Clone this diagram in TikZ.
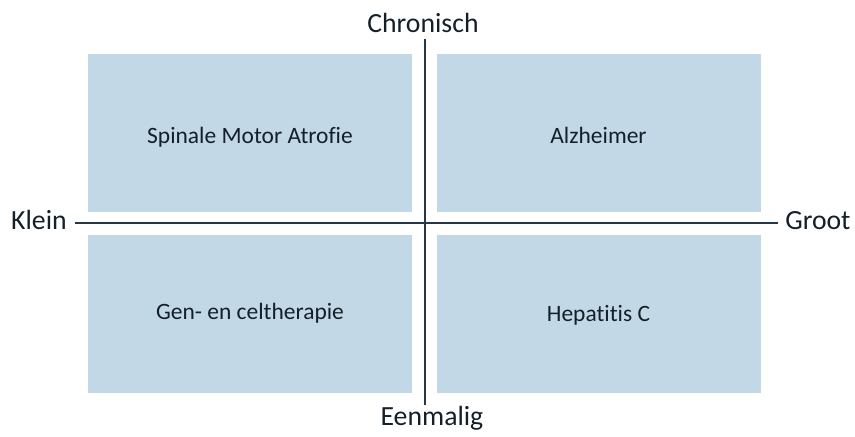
\documentclass[tikz,border=0pt]{standalone}
\usepackage{fontspec}
\setmainfont{Carlito}[Ligatures=NoCommon]
\definecolor{boxfill}{HTML}{C3D8E6}
\definecolor{axisc}{HTML}{25384A}
\definecolor{txt}{HTML}{13202A}
\begin{document}
\begin{tikzpicture}[x=0.75pt,y=-0.75pt,
  quad/.style={fill=boxfill,draw=none,minimum width=324*0.75pt,minimum height=158*0.75pt,inner sep=0pt,
    text height=12pt,text depth=4pt,
    text=txt,font=\fontsize{17.6}{21}\selectfont},
  axislabel/.style={text=txt,font=\fontsize{20.8}{25}\selectfont,inner sep=0pt},
  axis/.style={draw=axisc,line width=1.5pt}]
\useasboundingbox (0,0) rectangle (855,436);
\node[quad] (tl) at (250,133) {\raisebox{-3.5pt}{Spinale Motor Atrofie}};
\node[quad] (tr) at (598.5,133) {\raisebox{-3.5pt}{Alzheimer}};
\node[quad] (bl) at (250,314) {Gen- en celtherapie};
\node[quad] (br) at (598.5,314) {\raisebox{-1.5pt}{Hepatitis C}};
\coordinate (top) at (424.5,39);
\coordinate (bot) at (424.5,405);
\coordinate (lft) at (75,222.5);
\coordinate (rgt) at (778,222.5);
\draw[axis] (lft) -- (rgt);
\draw[axis] (top) -- (bot);
\node[axislabel,anchor=base] (chron) at (423,32) {Chronisch};
\node[axislabel,anchor=base] (een) at (432,425) {Eenmalig};
\node[axislabel,anchor=base east] (klein) at (67,229) {Klein};
\node[axislabel,anchor=base west] (groot) at (785,229) {Groot};
\end{tikzpicture}
\end{document}
